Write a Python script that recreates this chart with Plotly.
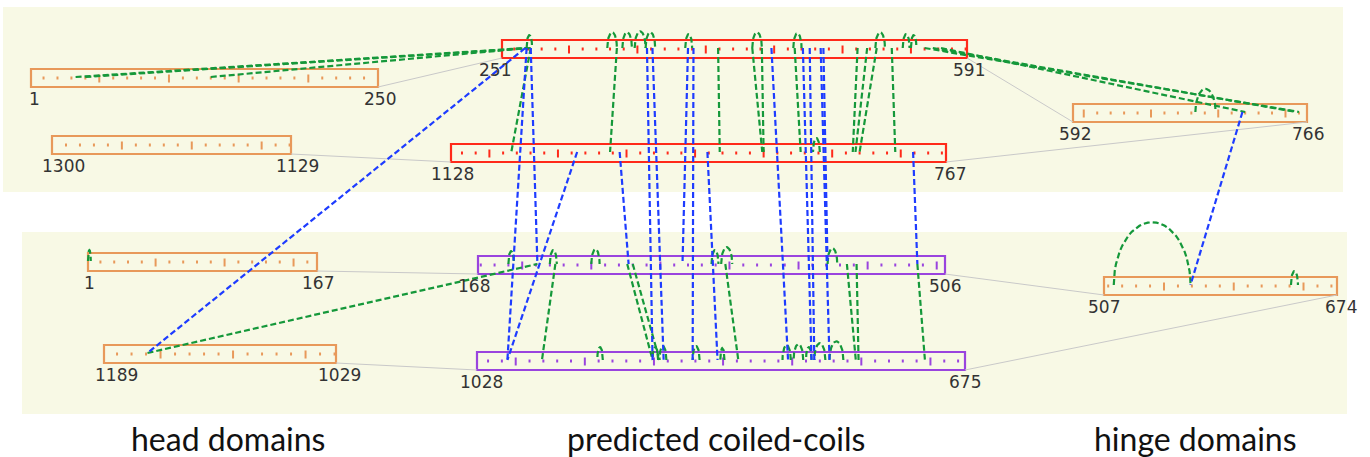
import math
import plotly.graph_objects as go

# ---------------------------------------------------------------------------
# Data: protein segments (residue numbers at the left and right ends)
# ---------------------------------------------------------------------------
SEGMENTS   = ["A", "B", "C", "D", "E", "F", "G", "H", "I", "J"]
SEG_FIRST  = [1, 1300, 251, 1128, 592, 1, 1189, 168, 1028, 507]
SEG_LAST   = [250, 1129, 591, 767, 766, 167, 1029, 506, 675, 674]
SEG_DOMAIN = ["head", "head", "coil1", "coil1", "hinge",
              "head", "head", "coil2", "coil2", "hinge"]

# Sequence continuity between consecutive segments (segment, residue, segment, residue)
JOINS = [
    ("A", 250, "C", 251), ("B", 1129, "D", 1128), ("C", 591, "E", 592), ("E", 766, "D", 767),
    ("F", 167, "H", 168), ("G", 1029, "I", 1028), ("H", 506, "J", 507), ("I", 675, "J", 674),
]

# Intra-protein cross-links (segment, residue, segment, residue)
INTRA_LINKS = [
    ("A", 33, "C", 269), ("A", 40, "C", 272), ("A", 130, "C", 270),
    ("C", 269, "C", 273), ("C", 272, "D", 1084),
    ("C", 328, "C", 335), ("C", 339, "C", 346), ("C", 348, "C", 356), ("C", 356, "C", 363),
    ("C", 335, "D", 1012), ("C", 385, "C", 390), ("C", 409, "D", 932),
    ("C", 434, "C", 441), ("C", 434, "D", 901), ("C", 441, "D", 900),
    ("C", 464, "C", 470), ("C", 465, "D", 873), ("D", 859, "D", 864),
    ("C", 511, "D", 835), ("C", 518, "D", 833), ("C", 524, "C", 531), ("C", 525, "D", 830),
    ("C", 536, "D", 804), ("C", 544, "C", 549), ("C", 550, "C", 554),
    ("C", 560, "E", 760), ("C", 566, "E", 758), ("C", 572, "E", 720), ("E", 683, "E", 698),
    ("F", 1, "F", 3), ("G", 1159, "H", 211),
    ("H", 190, "H", 194), ("H", 220, "H", 225), ("H", 250, "H", 256),
    ("H", 337, "H", 342), ("H", 344, "H", 352), ("H", 421, "H", 428),
    ("H", 224, "I", 981), ("H", 276, "I", 901), ("H", 280, "I", 896), ("H", 347, "I", 839),
    ("H", 435, "I", 754), ("H", 442, "I", 752), ("H", 486, "I", 704),
    ("I", 937, "I", 941), ("I", 897, "I", 901), ("I", 891, "I", 896), ("I", 867, "I", 872),
    ("I", 849, "I", 852), ("I", 801, "I", 807), ("I", 792, "I", 799), ("I", 786, "I", 790),
    ("I", 776, "I", 784), ("I", 763, "I", 773),
    ("J", 514, "J", 569), ("J", 641, "J", 646),
]

# Inter-protein cross-links (segment, residue, segment, residue)
INTER_LINKS = [
    ("C", 269, "I", 1006), ("C", 272, "H", 211), ("D", 1036, "I", 1006), ("D", 1005, "H", 277),
    ("C", 357, "I", 901), ("C", 361, "I", 893), ("C", 387, "H", 316), ("C", 391, "I", 872),
    ("D", 941, "I", 854), ("C", 448, "I", 803), ("C", 471, "I", 786), ("C", 476, "I", 784),
    ("C", 484, "I", 773), ("C", 486, "H", 421), ("D", 791, "H", 486),
    ("C", 268, "G", 1159), ("E", 718, "J", 569),
]

CATEGORY_LABELS = ["head domains", "predicted coiled-coils", "hinge domains"]

# ---------------------------------------------------------------------------
# Geometry and styling (pixel canvas 1370 x 457, y pointing down)
# ---------------------------------------------------------------------------
W, H = 1370, 457
BOX_H = 18
# left x, right x, top y, start-label dx, end-label dx
GEOM = {
    "A": (31, 378, 69, 3, 2),
    "B": (52, 291, 136, 11, 6),
    "C": (502, 967, 40, -7, 2),
    "D": (451, 946, 144, 1, 4),
    "E": (1073, 1307, 104, 2, 1),
    "F": (88, 317, 253, 1, 1),
    "G": (104, 336, 345, 12, 3),
    "H": (478, 945, 256, -4, 0),
    "I": (477, 965, 352, 4, 0),
    "J": (1104, 1337, 277, 0, 4),
}
DOMAIN_COLOR = {"head": "#e8995a", "hinge": "#e8995a", "coil1": "#ff2a1a", "coil2": "#9a44de"}
PANELS = [(3, 7, 1343, 192), (22, 232, 1347, 414)]
PANEL_COLOR = "#f8f9e5"
CATEGORY_X = [228, 716, 1195]
CATEGORY_Y = 438
GREEN = "#15983a"
BLUE = "#1e3cff"
JOIN_COLOR = "#c9c9c9"
NUM_FONT = dict(family="DejaVu Sans", size=17, color="#333333")

seg_first = dict(zip(SEGMENTS, SEG_FIRST))
seg_last = dict(zip(SEGMENTS, SEG_LAST))
seg_domain = dict(zip(SEGMENTS, SEG_DOMAIN))


def res_x(seg, r):
    x0, x1 = GEOM[seg][0], GEOM[seg][1]
    s, e = seg_first[seg], seg_last[seg]
    return x0 + (r - s) / (e - s) * (x1 - x0)


def mid_y(seg):
    return GEOM[seg][2] + BOX_H / 2


def bottom_y(seg):
    return GEOM[seg][2] + BOX_H


fig = go.Figure()
shapes = []

# background panels
for (px0, py0, px1, py1) in PANELS:
    shapes.append(dict(type="rect", x0=px0, y0=py0, x1=px1, y1=py1, layer="below",
                       line=dict(width=0), fillcolor=PANEL_COLOR))

# segment boxes
for seg in SEGMENTS:
    x0, x1, y0 = GEOM[seg][:3]
    shapes.append(dict(type="rect", x0=x0, y0=y0, x1=x1, y1=y0 + BOX_H, layer="below",
                       line=dict(color=DOMAIN_COLOR[seg_domain[seg]], width=2.2),
                       fillcolor="rgba(0,0,0,0)"))

# thin grey connectors between consecutive segments
jx, jy = [], []
for a, ra, b, rb in JOINS:
    jx += [res_x(a, ra), res_x(b, rb), None]
    jy += [bottom_y(a), bottom_y(b), None]
fig.add_trace(go.Scatter(x=jx, y=jy, mode="lines", hoverinfo="skip",
                         line=dict(color=JOIN_COLOR, width=1)))

# residue ticks every 10, longer every 50
for seg in SEGMENTS:
    lo, hi = sorted((seg_first[seg], seg_last[seg]))
    yc = mid_y(seg)
    tx, ty = [], []
    r = int(math.ceil(lo / 10.0) * 10)
    while r <= hi:
        x = res_x(seg, r)
        if r % 50 == 0:
            tx += [x, x, None]
            ty += [yc - 3.5, yc + 4.5, None]
        else:
            tx += [x, x, None]
            ty += [yc - 1.5, yc + 1.5, None]
        r += 10
    fig.add_trace(go.Scatter(x=tx, y=ty, mode="lines", hoverinfo="skip",
                             line=dict(color=DOMAIN_COLOR[seg_domain[seg]], width=2)))


def link_path(a, ra, b, rb):
    xa, xb = res_x(a, ra), res_x(b, rb)
    if a == b:
        # arc above the segment
        yc = mid_y(a) - 1
        span = abs(xb - xa)
        h = 0.7 * span + 9
        xm = (xa + xb) / 2
        xs, ys = [], []
        n = 28
        for i in range(n + 1):
            t = math.pi * i / n
            xs.append(xm - (xb - xa) / 2 * math.cos(t))
            ys.append(yc - h * math.sin(t))
        return xs, ys
    return [xa, xb], [mid_y(a) - 1, mid_y(b) - 1]


def add_links(links, color):
    lx, ly = [], []
    for a, ra, b, rb in links:
        xs, ys = link_path(a, ra, b, rb)
        lx += xs + [None]
        ly += ys + [None]
    fig.add_trace(go.Scatter(x=lx, y=ly, mode="lines", hoverinfo="skip",
                             line=dict(color=color, width=2.2, dash="6px,3px")))


add_links(INTRA_LINKS, GREEN)
add_links(INTER_LINKS, BLUE)

# residue numbers at the segment ends
annotations = []
for seg in SEGMENTS:
    x0, x1, y0, dxs, dxe = GEOM[seg]
    for r, dx in ((seg_first[seg], dxs), (seg_last[seg], dxe)):
        annotations.append(dict(x=res_x(seg, r) + dx, y=y0 + BOX_H + 12, text=str(r),
                                showarrow=False, xanchor="center", yanchor="middle",
                                font=NUM_FONT))

# domain category captions
for txt, cx in zip(CATEGORY_LABELS, CATEGORY_X):
    annotations.append(dict(x=cx, y=CATEGORY_Y, text=txt, showarrow=False,
                            xanchor="center", yanchor="middle",
                            font=dict(family="Lato", size=32, color="#111111")))

fig.update_layout(
    width=W, height=H, margin=dict(l=0, r=0, t=0, b=0),
    paper_bgcolor="white", plot_bgcolor="white", showlegend=False,
    xaxis=dict(range=[0, W], visible=False, fixedrange=True),
    yaxis=dict(range=[H, 0], visible=False, fixedrange=True),
    shapes=shapes, annotations=annotations,
)

fig.write_html("out.html")
